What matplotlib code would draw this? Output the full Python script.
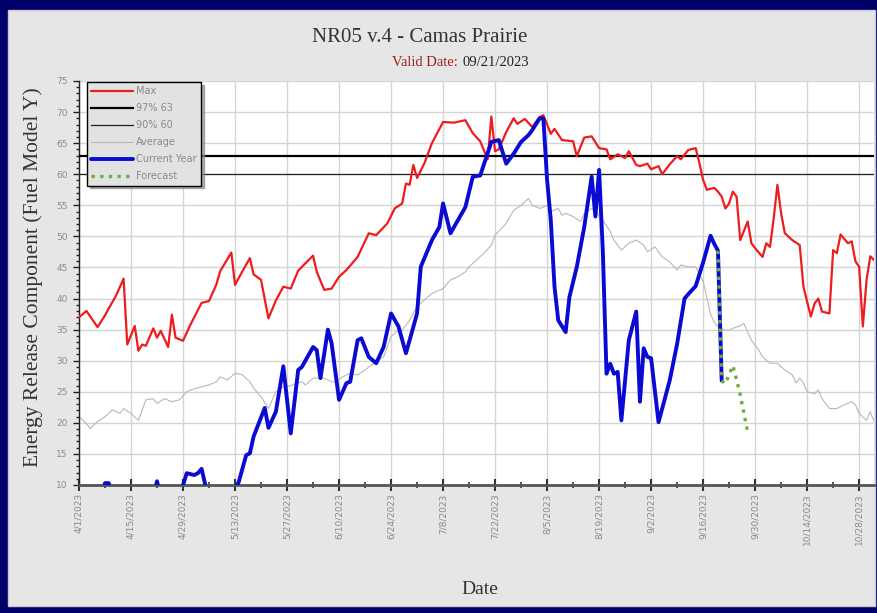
import datetime as dt
import matplotlib
matplotlib.use("Agg")
import matplotlib.pyplot as plt
import matplotlib.dates as mdates
from matplotlib.patches import Rectangle
from matplotlib.ticker import FixedLocator, MultipleLocator, FuncFormatter

# ---------------- data (day offsets from 4/1/2023) ----------------
START = dt.date(2023, 4, 1)

max_day = [0, 2, 5, 7, 8, 10, 12, 13, 15, 16, 17, 18, 20, 21, 22, 24, 25, 26, 28, 30,
           33, 35, 37, 38, 41, 42, 44, 46, 47, 49, 51, 53, 55, 57, 59, 63, 64, 66, 68, 70,
           72, 75, 78, 80, 83, 85, 87, 88, 89, 90, 91, 93, 95, 98, 101, 104, 106, 108, 110, 111,
           112, 113, 115, 117, 118, 120, 122, 124, 125, 127, 128, 130, 133, 134, 136, 138, 140, 142, 143, 145,
           147, 148, 150, 151, 153, 154, 156, 157, 159, 161, 162, 164, 166, 167, 168, 169, 171, 172, 173, 174,
           175, 176, 177, 178, 180, 181, 182, 184, 185, 186, 187, 188, 189, 190, 192, 194, 195, 197, 198, 199,
           200, 202, 203, 204, 205, 207, 208, 209, 210, 211, 212, 213, 214]
max_val = [37.0, 38.0, 35.4, 37.3, 38.4, 40.5, 43.2, 32.6, 35.6, 31.6, 32.6, 32.4, 35.2, 33.7, 34.8, 32.2, 37.4, 33.7, 33.2, 35.8,
           39.3, 39.6, 42.3, 44.4, 47.4, 42.2, 44.4, 46.5, 43.9, 43.0, 36.8, 39.7, 41.9, 41.6, 44.5, 46.9, 44.3, 41.4, 41.6, 43.5,
           44.6, 46.7, 50.5, 50.2, 52.1, 54.5, 55.3, 58.5, 58.3, 61.5, 59.4, 61.8, 65.0, 68.4, 68.3, 68.7, 66.6, 65.3, 62.4, 69.3,
           63.7, 64.0, 66.8, 69.0, 68.1, 68.9, 67.6, 69.2, 69.5, 66.5, 67.3, 65.5, 65.3, 62.9, 65.9, 66.1, 64.2, 64.0, 62.4, 63.2,
           62.6, 63.7, 61.5, 61.3, 61.7, 60.8, 61.3, 60.0, 61.6, 62.9, 62.4, 63.9, 64.2, 61.8, 59.1, 57.5, 57.8, 57.2, 56.4, 54.5,
           55.3, 57.2, 56.4, 49.4, 52.4, 48.9, 48.1, 46.7, 48.9, 48.3, 52.9, 58.3, 53.7, 50.5, 49.4, 48.6, 41.9, 37.1, 39.2, 40.0,
           37.9, 37.6, 47.8, 47.3, 50.3, 48.9, 49.2, 46.0, 45.1, 35.5, 43.0, 46.8, 46.2]

cur_day = [0, 6, 7, 8, 9, 20, 21, 22, 27, 28, 29, 31, 32, 33, 34, 35, 41, 43, 45, 46,
           47, 50, 51, 53, 55, 57, 59, 60, 63, 64, 65, 67, 68, 70, 72, 73, 75, 76, 78, 80,
           82, 84, 86, 88, 89, 91, 92, 95, 97, 98, 100, 102, 104, 106, 108, 111, 113, 115, 117, 119,
           121, 122, 124, 125, 126, 127, 128, 129, 131, 132, 134, 136, 138, 139, 140, 141, 142, 143, 144, 145,
           146, 148, 150, 151, 152, 153, 154, 156, 159, 161, 163, 164, 166, 168, 170, 171, 172, 173]
cur_val = [5.0, 8.0, 10.3, 10.3, 8.0, 8.0, 10.6, 8.0, 8.0, 10.0, 11.9, 11.6, 11.9, 12.6, 10.0, 8.0, 8.0, 10.5, 14.8, 15.1,
           17.8, 22.4, 19.2, 21.8, 29.1, 18.3, 28.5, 29.0, 32.2, 31.7, 27.2, 35.0, 32.8, 23.7, 26.4, 26.6, 33.3, 33.6, 30.6, 29.6,
           32.2, 37.6, 35.5, 31.2, 33.3, 37.6, 45.1, 49.4, 51.5, 55.3, 50.5, 52.6, 54.7, 59.6, 59.8, 65.2, 65.5, 61.7, 63.3, 65.2,
           66.3, 67.1, 69.0, 69.0, 59.1, 52.6, 41.9, 36.5, 34.6, 40.2, 45.1, 51.5, 59.6, 53.2, 60.7, 47.7, 27.9, 29.5, 27.9, 28.2,
           20.4, 33.3, 37.9, 23.4, 32.0, 30.6, 30.4, 20.1, 26.8, 32.7, 40.0, 40.7, 42.0, 45.8, 50.1, 48.8, 47.7, 26.8]

fc_day = [172, 173, 174, 175, 176, 177, 178, 179, 180]
fc_val = [47.7, 26.8, 26.3, 27.8, 29.2, 27.0, 24.5, 21.5, 18.5]

avg_day = [0, 2, 3, 5, 7, 9, 11, 12, 14, 16, 18, 20, 21, 23, 25, 27, 29, 30, 33, 35,
           37, 38, 40, 42, 44, 46, 47, 49, 51, 52, 53, 55, 57, 60, 61, 63, 66, 68, 69, 71,
           73, 75, 77, 78, 80, 82, 84, 86, 87, 89, 91, 93, 95, 96, 98, 100, 102, 104, 105, 107,
           109, 111, 112, 115, 117, 119, 121, 122, 124, 126, 127, 129, 130, 131, 133, 135, 136, 138, 139, 141,
           143, 144, 146, 148, 150, 152, 153, 155, 157, 159, 161, 162, 164, 166, 168, 170, 171, 172, 174, 175,
           176, 178, 179, 180, 181, 183, 184, 186, 187, 188, 190, 192, 193, 194, 195, 196, 198, 199, 200, 202,
           204, 206, 208, 209, 210, 212, 213, 214]
avg_val = [21.0, 19.9, 19.1, 20.2, 21.0, 22.1, 21.5, 22.3, 21.5, 20.4, 23.7, 23.9, 23.1, 23.9, 23.4, 23.7, 25.0, 25.3, 25.8, 26.1,
           26.6, 27.4, 26.9, 28.0, 27.7, 26.6, 25.6, 24.2, 22.3, 23.7, 25.0, 25.8, 26.0, 26.6, 26.1, 27.2, 27.2, 26.6, 26.6, 27.4,
           28.0, 27.7, 28.5, 29.0, 29.8, 30.6, 33.9, 34.9, 34.9, 36.5, 38.7, 39.8, 40.8, 41.1, 41.6, 43.0, 43.5, 44.3, 45.1, 46.2,
           47.3, 48.6, 50.2, 52.1, 54.2, 55.0, 56.1, 55.0, 54.5, 55.0, 54.0, 54.5, 53.4, 53.7, 53.2, 52.4, 53.7, 54.5, 54.0, 52.6,
           50.8, 49.4, 47.8, 48.9, 49.4, 48.6, 47.5, 48.3, 46.7, 45.9, 44.6, 45.4, 45.1, 45.1, 42.8, 37.5, 36.2, 35.4, 34.9, 34.9,
           35.2, 35.6, 36.0, 34.6, 33.3, 31.7, 30.6, 29.6, 29.6, 29.6, 28.5, 27.7, 26.4, 27.2, 26.4, 25.0, 24.7, 25.3, 23.9, 22.3,
           22.3, 22.9, 23.4, 22.9, 21.5, 20.4, 21.8, 20.2]

p97_value = 63
p90_value = 60
legend_labels = ["Max", "97% 63", "90% 60", "Average", "Current Year", "Forecast"]
title_text = "NR05 v.4 - Camas Prairie"
valid_label = "Valid Date:"
valid_date = "09/21/2023"
y_label = "Energy Release Component (Fuel Model Y)"
x_label = "Date"


def to_dates(days):
    return [START + dt.timedelta(days=d) for d in days]


# ---------------- figure ----------------
W, H = 878, 613
fig = plt.figure(figsize=(W / 100, H / 100), dpi=100, facecolor="#00006a")
bg = Rectangle((8 / W, 7 / H), (875 - 8) / W, (603 - 7) / H,
               transform=fig.transFigure, facecolor="#e6e6e6",
               edgecolor="#c8c8d0", lw=1, zorder=-10)
fig.patches.append(bg)

L, R, T, B = 79, 874, 81, 485
ax = fig.add_axes([L / W, 1 - B / H, (R - L) / W, (B - T) / H])
ax.set_zorder(5)
ax.set_facecolor("white")

xmin = mdates.date2num(START)
xmax = mdates.date2num(START + dt.timedelta(days=214))
ax.set_xlim(xmin, xmax)
ax.set_ylim(10, 75)

# grid
major_days = list(range(0, 211, 14))
minor_days = list(range(7, 215, 14))
ax.xaxis.set_major_locator(FixedLocator([mdates.date2num(d) for d in to_dates(major_days)]))
ax.xaxis.set_minor_locator(FixedLocator([mdates.date2num(d) for d in to_dates(minor_days)]))
ax.xaxis.set_major_formatter(FuncFormatter(
    lambda v, p: (lambda d: f"{d.month}/{d.day}/{d.year}")(mdates.num2date(v))))
ax.yaxis.set_major_locator(MultipleLocator(5))
ax.yaxis.set_minor_locator(MultipleLocator(1))
ax.grid(True, which="major", color="#d4d4d4", lw=1.0, zorder=0)
ax.set_axisbelow(True)

# series
rnd = dict(solid_joinstyle="round", solid_capstyle="round")
ax.plot(to_dates(avg_day), avg_val, color="#b8b8b8", lw=0.8, label=legend_labels[3], zorder=2, **rnd)
ax.axhline(p97_value, color="black", lw=1.6, label=legend_labels[1], zorder=3)
ax.axhline(p90_value, color="#222222", lw=0.9, label=legend_labels[2], zorder=3)
ax.plot(to_dates(max_day), max_val, color="#ee1c1c", lw=1.6, label=legend_labels[0], zorder=4, **rnd)
ax.plot(to_dates(cur_day), cur_val, color="#0a0ad2", lw=2.8, label=legend_labels[4], zorder=5, **rnd)
ax.plot(to_dates(fc_day), fc_val, color="#6aae45", lw=2.4, ls=(0, (1, 1.6)),
        label=legend_labels[5], zorder=6)

# axes styling
for s in ("top", "right"):
    ax.spines[s].set_visible(False)
ax.spines["left"].set_color("#222222")
ax.spines["left"].set_linewidth(1.0)
ax.spines["bottom"].set_color("#555555")
ax.spines["bottom"].set_linewidth(2.0)

ax.tick_params(axis="y", which="major", length=4, width=1, color="#222222",
               labelsize=6.5, labelcolor="#8a8a8a", pad=4)
ax.tick_params(axis="y", which="minor", length=2.5, width=1, color="#222222")
ax.tick_params(axis="x", which="major", direction="inout", length=8, width=1.5,
               color="#333333", labelsize=6.5, labelcolor="#8a8a8a", pad=2)
ax.tick_params(axis="x", which="minor", direction="inout", length=5, width=1.2, color="#333333")
for lab in ax.get_xticklabels():
    lab.set_rotation(90)
    lab.set_ha("center")
    lab.set_va("top")

# legend
handles, labels = ax.get_legend_handles_labels()
pairs = sorted(zip([legend_labels.index(l) for l in labels], range(len(labels))))
leg = ax.legend([handles[i] for _, i in pairs], [labels[i] for _, i in pairs], loc="upper left",
                bbox_to_anchor=(0.01, 0.998), borderaxespad=0, fontsize=7,
                frameon=True, fancybox=False,
                shadow={"color": "#8c8c8c", "alpha": 0.7}, facecolor="#e2e2e2",
                edgecolor="black", framealpha=1, handlelength=4.3, handletextpad=0.3,
                labelspacing=0.72, borderpad=0.45)
leg.get_frame().set_linewidth(1.0)
for t in leg.get_texts():
    t.set_color("#8a8a8a")

# titles
serif = ["Liberation Serif", "DejaVu Serif"]
fig.text(420 / W, 1 - 38 / H, title_text, ha="center", va="center",
         family=serif, fontsize=15, color="#333333")
fig.text(458 / W, 1 - 62 / H, valid_label, ha="right", va="center",
         family=serif, fontsize=10.5, color="#a01e1e")
fig.text(463 / W, 1 - 62 / H, valid_date, ha="left", va="center",
         family=serif, fontsize=10.5, color="#222222")
fig.text(33 / W, 1 - 277 / H, y_label, ha="center", va="center", rotation=90,
         family=serif, fontsize=15.5, color="#333333")
fig.text(480 / W, 1 - 590 / H, x_label, ha="center", va="center",
         family=serif, fontsize=14, color="#333333")

fig.savefig("out.png", dpi=100, facecolor=fig.get_facecolor())
